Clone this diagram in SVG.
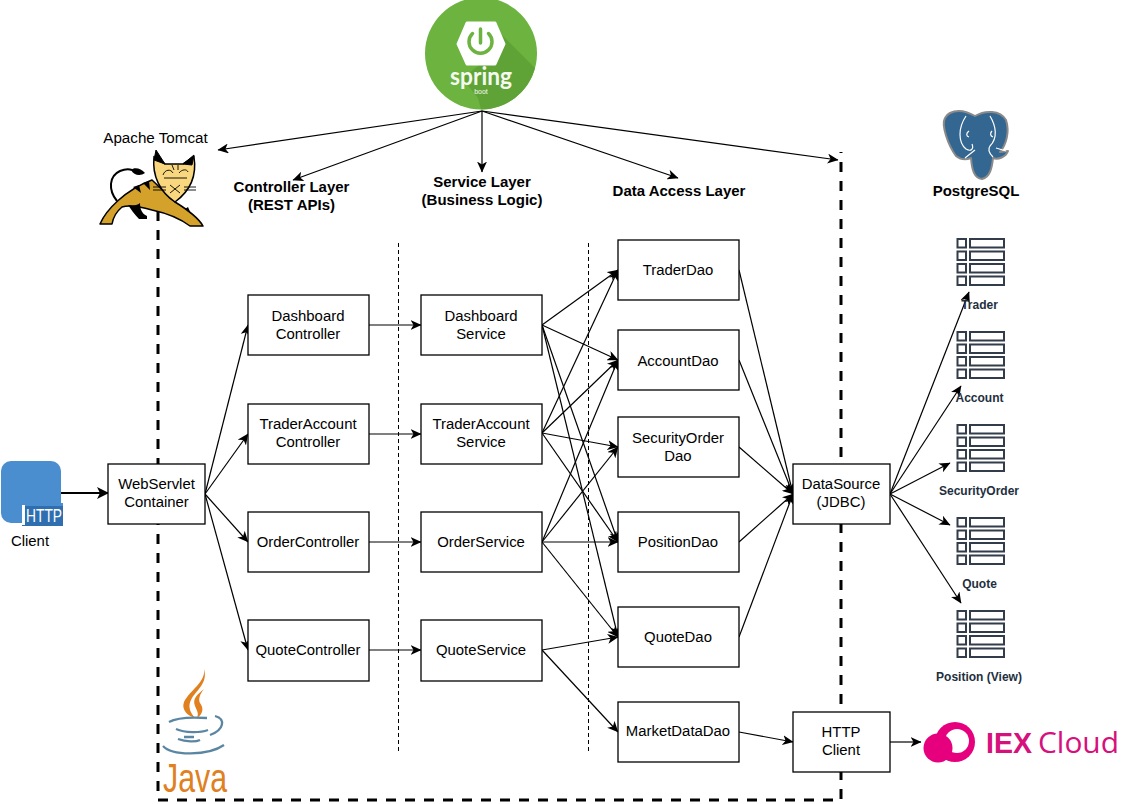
<svg xmlns="http://www.w3.org/2000/svg" xmlns:xlink="http://www.w3.org/1999/xlink" width="1123" height="804" viewBox="0 0 1123 804">
<style>
text{font-family:"Liberation Sans",Arial,sans-serif;fill:#000;text-anchor:middle}
.n{font-size:14.9px}
.b{font-size:15px;font-weight:bold}
.t{font-size:12px;font-weight:bold;fill:#232f3e}
.box{fill:#fff;stroke:#000;stroke-width:1.3}
.c{fill:none;stroke:#000;stroke-width:1.2;marker-end:url(#a)}
.tb{fill:none;stroke:#333c4a;stroke-width:2}
</style>
<defs>
<marker id="a" viewBox="0 0 12 10" refX="10.5" refY="5" markerWidth="12" markerHeight="10" markerUnits="userSpaceOnUse" orient="auto"><path d="M0 0L11 5L0 10L3 5Z" fill="#000"/></marker>
<marker id="a2" viewBox="0 0 12 12" refX="11" refY="6" markerWidth="12" markerHeight="12" markerUnits="userSpaceOnUse" orient="auto"><path d="M0 0L12 6L0 12L3 6Z" fill="#000"/></marker>
<g id="tbl">
<rect x="0.500" y="0" width="8.500" height="8.500" class="tb"/><rect x="13" y="0" width="34" height="8.500" class="tb"/>
<rect x="0.500" y="12.500" width="8.500" height="8.500" class="tb"/><rect x="13" y="12.500" width="34" height="8.500" class="tb"/>
<rect x="0.500" y="25" width="8.500" height="8.500" class="tb"/><rect x="13" y="25" width="34" height="8.500" class="tb"/>
<rect x="0.500" y="37.500" width="8.500" height="8.500" class="tb"/><rect x="13" y="37.500" width="34" height="8.500" class="tb"/>
</g>
</defs>
<rect width="1123" height="804" fill="#fff"/>

<g id="boundaries" fill="none" stroke="#000">
<path d="M158 211V800H841V152" stroke-width="3" stroke-dasharray="10 9"/>
<path d="M398.500 243V751M588.500 243V751" stroke-width="1" stroke-dasharray="4 3"/>
</g>

<g id="connectors">
<path class="c" d="M482 111L218 150"/>
<path class="c" d="M482 111L293 180"/>
<path class="c" d="M482 111V172"/>
<path class="c" d="M482 111L678 178"/>
<path class="c" d="M482 111L838 160"/>
<path d="M61 493H108" fill="none" stroke="#000" stroke-width="2" marker-end="url(#a2)"/>
<path class="c" d="M205 494L248 325"/>
<path class="c" d="M205 494L248 434"/>
<path class="c" d="M205 494L248 542"/>
<path class="c" d="M205 494L248 650"/>
<path class="c" d="M369 325H421"/>
<path class="c" d="M369 434H421"/>
<path class="c" d="M369 542H421"/>
<path class="c" d="M369 650H421"/>
<path class="c" d="M542 325L618 270"/>
<path class="c" d="M542 325L618 360"/>
<path class="c" d="M542 325L618 542"/>
<path class="c" d="M542 325L618 637"/>
<path class="c" d="M542 433L618 270"/>
<path class="c" d="M542 433L618 360"/>
<path class="c" d="M542 433L618 447"/>
<path class="c" d="M542 433L618 542"/>
<path class="c" d="M542 542L618 360"/>
<path class="c" d="M542 542L618 447"/>
<path class="c" d="M542 542H618"/>
<path class="c" d="M542 542L618 637"/>
<path class="c" d="M542 650L618 637"/>
<path class="c" d="M542 650L618 732"/>
<path class="c" d="M739 270L793 494"/>
<path class="c" d="M739 360L793 494"/>
<path class="c" d="M739 447L793 494"/>
<path class="c" d="M739 542L793 494"/>
<path class="c" d="M739 637L793 494"/>
<path class="c" d="M739 732L793 742"/>
<path class="c" d="M890 742H921"/>
<path class="c" d="M890 494L969 292"/>
<path class="c" d="M890 494L961 386"/>
<path class="c" d="M890 494L950 463"/>
<path class="c" d="M890 494L950 525"/>
<path class="c" d="M890 494L961 603"/>
</g>

<g id="spring-boot">
<circle cx="481" cy="53.500" r="56" fill="#6cb33f"/>
<path d="M481 109.500A56 56 0 0 0 535 68L497 30L505 46L462 78L478 98Z" fill="#5fa336"/>
<path d="M467 23H495L504 44L495 64H467L458 44Z" fill="#fff" stroke="#fff" stroke-width="3" stroke-linejoin="round"/>
<path d="M472.500 33.500A11.500 11.500 0 1 0 488.500 33.500" fill="none" stroke="#6cb33f" stroke-width="3.500" stroke-linecap="round"/>
<path d="M480.500 29V43" fill="none" stroke="#6cb33f" stroke-width="3.500" stroke-linecap="round"/>
<text x="481" y="85" textLength="62" lengthAdjust="spacingAndGlyphs" style="font-size:25px;fill:#f4f9f0;font-weight:bold;font-family:Lato,'Liberation Sans',sans-serif">spring</text>
<text x="481" y="94" style="font-size:7px;fill:#f4f9f0">boot</text>
</g>

<g id="tomcat">
<text x="155.500" y="143" class="n" style="font-size:15.200px">Apache Tomcat</text>
<path d="M117 201C108 190 109 176 120 171C125 169 129 169 132 170" fill="none" stroke="#000" stroke-width="2"/>
<path d="M131 170C134 167 141 168 145 173C141 176 134 176 131 170Z" fill="#000"/>
<path d="M100 224C106 210 125 190 152 180L175 202C188 210 198 217 203 226H190C178 217 166 213 152 210C138 206 128 205 122 207C116 212 113 218 112 224Z" fill="#d4a12a" stroke="#000" stroke-width="1.500" stroke-linejoin="round"/>
<path d="M128 205C134 206 138 205 140 203C140 209 142 214 147 216V219H139C134 214 131 209 128 205Z" fill="#000"/>
<path d="M133 187L141 193L139 185ZM143 183L150 190L149 181ZM185 209L191 214L188 207Z" fill="#000"/>
<path d="M154 157L165 164H183L194 157C197 176 190 191 175 202C160 192 152 176 154 157Z" fill="#f9d77e" stroke="#000" stroke-width="1.500"/>
<path d="M156 150L165 164L154 160ZM194 155L192 165L183 164Z" fill="#000" stroke="#000"/>
<path d="M153 187H166M184 187H196M153 190H166M184 190H196M163 175C165 169 171 169 173 173M179 173C182 169 187 169 188 172M164 178H187M170 193L180 185M170 185L180 193M172 165L174 170M178 165V170" fill="none" stroke="#000" stroke-width="0.900"/>
</g>

<g id="postgresql">
<path d="M950 113C958 109 968 112 975 116C985 110 1000 110 1006 120C1010 132 1006 145 1000 152L1008 151C1006 157 998 160 993 158C992 168 990 177 982 179C974 178 972 170 971 158C966 160 961 160 956 156C948 145 941 125 945 118C946 116 948 114 950 113Z" fill="#336791" stroke="#8a8a8a" stroke-width="2" stroke-linejoin="round"/>
<path d="M966 116C958 128 958 142 966 149C971 152 974 149 972 144M990 116C996 126 998 138 990 146C987 150 990 154 993 157M965 158L975 150M1006 151L996 148M969 131C966 133 966 136 969 137M992 131C990 133 990 136 993 137" fill="none" stroke="#fff" stroke-width="1.200"/>
<text x="976" y="196" class="b">PostgreSQL</text>
</g>

<g id="tables">
<use xlink:href="#tbl" href="#tbl" x="957" y="239"/><text x="979.500" y="309" class="t">Trader</text>
<use xlink:href="#tbl" href="#tbl" x="957" y="332"/><text x="979.500" y="402" class="t">Account</text>
<use xlink:href="#tbl" href="#tbl" x="957" y="425"/><text x="979" y="495" class="t">SecurityOrder</text>
<use xlink:href="#tbl" href="#tbl" x="957" y="518"/><text x="979.500" y="588" class="t">Quote</text>
<use xlink:href="#tbl" href="#tbl" x="957" y="611"/><text x="979" y="681" class="t">Position (View)</text>
</g>

<g id="client">
<rect x="1" y="461" width="60" height="62" rx="10" fill="#4a8ecf"/>
<rect x="22" y="503" width="41" height="23" fill="#2f6fb0"/>
<rect x="22" y="503" width="41" height="3" fill="#4a8ecf"/>
<rect x="22" y="505" width="3" height="20" fill="#fff"/>
<text x="26" y="522" textLength="36" lengthAdjust="spacingAndGlyphs" style="font-size:18px;fill:#fff;text-anchor:start">HTTP</text>
<text x="30" y="546" class="n">Client</text>
</g>

<g id="java">
<path d="M204 669C206 682 190 690 184 702C181 710 188 716 195 718C190 712 187 706 192 698C198 689 208 682 204 669Z" fill="#e0801f"/>
<path d="M204 689C198 694 192 698 195 706C197 711 199 713 197 718C203 714 204 708 200 703C198 699 200 694 204 689Z" fill="#e0801f"/>
<path d="M169 722C176 718 192 717 207 718M215 716C226 719 224 730 210 735M176 729C185 733 200 733 208 730M178 739C186 742 196 742 200 740M163 746C172 756 208 756 224 745M184 737H194" fill="none" stroke="#5b86a3" stroke-width="2.300"/>
<text x="163" y="792" textLength="64" lengthAdjust="spacingAndGlyphs" style="font-size:40px;fill:#e0801f;text-anchor:start">Java</text>
</g>

<g id="iex-cloud">
<circle cx="955" cy="742" r="20" fill="#e6007e"/>
<circle cx="957" cy="741" r="12" fill="#fff"/>
<circle cx="938" cy="748" r="14.500" fill="#e6007e"/>
<text x="986" y="753" textLength="46" lengthAdjust="spacingAndGlyphs" style="font-size:30px;fill:#d6107c;font-weight:bold;text-anchor:start">IEX</text>
<text x="1038" y="753" textLength="81" lengthAdjust="spacingAndGlyphs" style="font-size:30px;fill:#d6107c;text-anchor:start;font-family:'Open Sans','Liberation Sans',sans-serif">Cloud</text>
</g>

<g id="layer-labels">
<text x="291.500" y="192" class="b">Controller Layer</text><text x="291.500" y="210" class="b">(REST APIs)</text>
<text x="482" y="187" class="b">Service Layer</text><text x="482" y="205" class="b">(Business Logic)</text>
<text x="679" y="196" class="b">Data Access Layer</text>
</g>

<g id="webservlet"><rect class="box" x="108" y="464" width="97" height="60"/><text x="156.500" y="489" class="n">WebServlet</text><text x="156.500" y="507" class="n">Container</text></g>
<g id="dashboard-controller"><rect class="box" x="248" y="295" width="121" height="60"/><text x="308" y="321" class="n">Dashboard</text><text x="308" y="339" class="n">Controller</text></g>
<g id="traderaccount-controller"><rect class="box" x="248" y="404" width="121" height="60"/><text x="308" y="429" class="n">TraderAccount</text><text x="308" y="447" class="n">Controller</text></g>
<g id="order-controller"><rect class="box" x="248" y="512" width="121" height="60"/><text x="308" y="547" class="n">OrderController</text></g>
<g id="quote-controller"><rect class="box" x="248" y="620" width="121" height="61"/><text x="308" y="655" class="n">QuoteController</text></g>
<g id="dashboard-service"><rect class="box" x="421" y="295" width="121" height="60"/><text x="481" y="321" class="n">Dashboard</text><text x="481" y="339" class="n">Service</text></g>
<g id="traderaccount-service"><rect class="box" x="421" y="404" width="121" height="60"/><text x="481" y="429" class="n">TraderAccount</text><text x="481" y="447" class="n">Service</text></g>
<g id="order-service"><rect class="box" x="421" y="512" width="121" height="60"/><text x="481" y="547" class="n">OrderService</text></g>
<g id="quote-service"><rect class="box" x="421" y="620" width="121" height="61"/><text x="481" y="655" class="n">QuoteService</text></g>
<g id="trader-dao"><rect class="box" x="618" y="240" width="121" height="60"/><text x="678" y="275" class="n">TraderDao</text></g>
<g id="account-dao"><rect class="box" x="618" y="330" width="121" height="60"/><text x="678" y="366" class="n">AccountDao</text></g>
<g id="securityorder-dao"><rect class="box" x="618" y="417" width="121" height="60"/><text x="678" y="443" class="n">SecurityOrder</text><text x="678" y="461" class="n">Dao</text></g>
<g id="position-dao"><rect class="box" x="618" y="512" width="121" height="60"/><text x="678" y="547" class="n">PositionDao</text></g>
<g id="quote-dao"><rect class="box" x="618" y="607" width="121" height="60"/><text x="678" y="642" class="n">QuoteDao</text></g>
<g id="marketdata-dao"><rect class="box" x="618" y="702" width="121" height="60"/><text x="678" y="736" class="n">MarketDataDao</text></g>
<g id="datasource"><rect class="box" x="793" y="464" width="97" height="60"/><text x="841" y="489" class="n">DataSource</text><text x="841" y="507" class="n">(JDBC)</text></g>
<g id="http-client"><rect class="box" x="793" y="712" width="97" height="60"/><text x="841" y="737" class="n">HTTP</text><text x="841" y="755" class="n">Client</text></g>
</svg>
